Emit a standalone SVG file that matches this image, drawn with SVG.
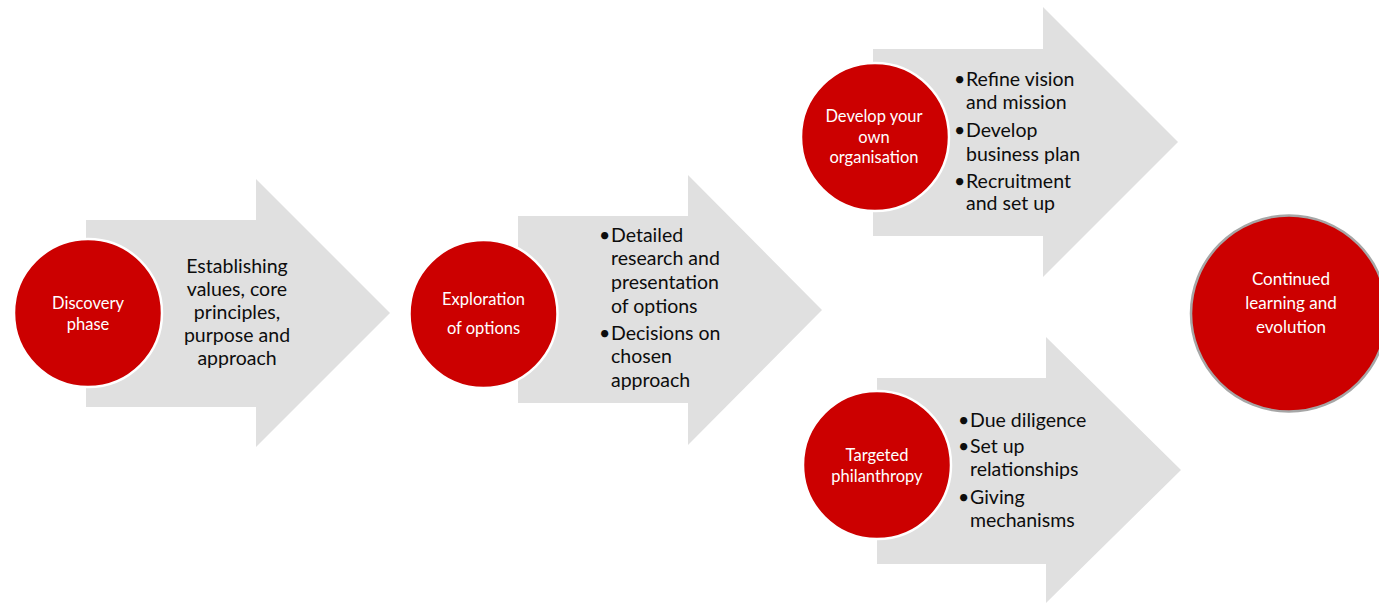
<svg xmlns="http://www.w3.org/2000/svg" width="1379" height="603" viewBox="0 0 1379 603">
  <style>
    .arrow { fill: #e0e0e0; }
    .disc { fill: #cc0000; stroke: #ffffff; stroke-width: 2.5; }
    .disc-end { fill: #cc0000; stroke: #a6a6a6; stroke-width: 2.5; }
    .lbl { font-family: Lato, "Liberation Sans", sans-serif; font-size: 16.5px; fill: #ffffff; text-anchor: middle; }
    .body { font-family: Lato, "Liberation Sans", sans-serif; font-size: 19.5px; fill: #0d0d0d; }
    .mid { text-anchor: middle; }
  </style>
  <rect width="1379" height="603" fill="#ffffff"/>

  <!-- block arrows carrying each stage -->
  <g id="connectors">
    <polygon class="arrow" points="86,220 256,220 256,179 390,313 256,447 256,407 86,407"/>
    <polygon class="arrow" points="518,216 688,216 688,175 822,310 688,445 688,403 518,403"/>
    <polygon class="arrow" points="873,49 1043,49 1043,7 1178,142 1043,277 1043,236 873,236"/>
    <polygon class="arrow" points="877,378 1046,378 1046,337 1181,470 1046,603 1046,564 877,564"/>
  </g>

  <g id="discovery">
    <circle class="disc" cx="88" cy="313" r="74"/>
    <text class="lbl"><tspan x="88" y="309">Discovery</tspan><tspan x="88" y="330">phase</tspan></text>
    <text class="body mid"><tspan x="237" y="273">Establishing</tspan><tspan x="237" y="296">values, core</tspan><tspan x="237" y="319">principles,</tspan><tspan x="237" y="342">purpose and</tspan><tspan x="237" y="365">approach</tspan></text>
  </g>

  <g id="exploration">
    <circle class="disc" cx="483.5" cy="314" r="74"/>
    <text class="lbl"><tspan x="483.5" y="305">Exploration</tspan><tspan x="483.5" y="334">of options</tspan></text>
    <text class="body"><tspan x="599" y="242">•</tspan><tspan x="611" y="242">Detailed</tspan><tspan x="611" y="265">research and</tspan><tspan x="611" y="289">presentation</tspan><tspan x="611" y="313">of options</tspan><tspan x="599" y="340">•</tspan><tspan x="611" y="340">Decisions on</tspan><tspan x="611" y="363">chosen</tspan><tspan x="611" y="387">approach</tspan></text>
  </g>

  <g id="own-organisation">
    <circle class="disc" cx="875" cy="137" r="74"/>
    <text class="lbl"><tspan x="874" y="122">Develop your</tspan><tspan x="874" y="143">own</tspan><tspan x="874" y="163">organisation</tspan></text>
    <text class="body"><tspan x="954" y="86">•</tspan><tspan x="966" y="86">Refine vision</tspan><tspan x="966" y="109">and mission</tspan><tspan x="954" y="137">•</tspan><tspan x="966" y="137">Develop</tspan><tspan x="966" y="161">business plan</tspan><tspan x="954" y="188">•</tspan><tspan x="966" y="188">Recruitment</tspan><tspan x="966" y="210">and set up</tspan></text>
  </g>

  <g id="philanthropy">
    <circle class="disc" cx="877" cy="465" r="74"/>
    <text class="lbl"><tspan x="877" y="461">Targeted</tspan><tspan x="877" y="482">philanthropy</tspan></text>
    <text class="body"><tspan x="958" y="427">•</tspan><tspan x="970" y="427">Due diligence</tspan><tspan x="958" y="453">•</tspan><tspan x="970" y="453">Set up</tspan><tspan x="970" y="476">relationships</tspan><tspan x="958" y="504">•</tspan><tspan x="970" y="504">Giving</tspan><tspan x="970" y="527">mechanisms</tspan></text>
  </g>

  <g id="continued-learning">
    <circle class="disc-end" cx="1289" cy="313.5" r="98"/>
    <text class="lbl" style="font-size:17px"><tspan x="1291" y="285">Continued</tspan><tspan x="1291" y="309">learning and</tspan><tspan x="1291" y="333">evolution</tspan></text>
  </g>
</svg>
